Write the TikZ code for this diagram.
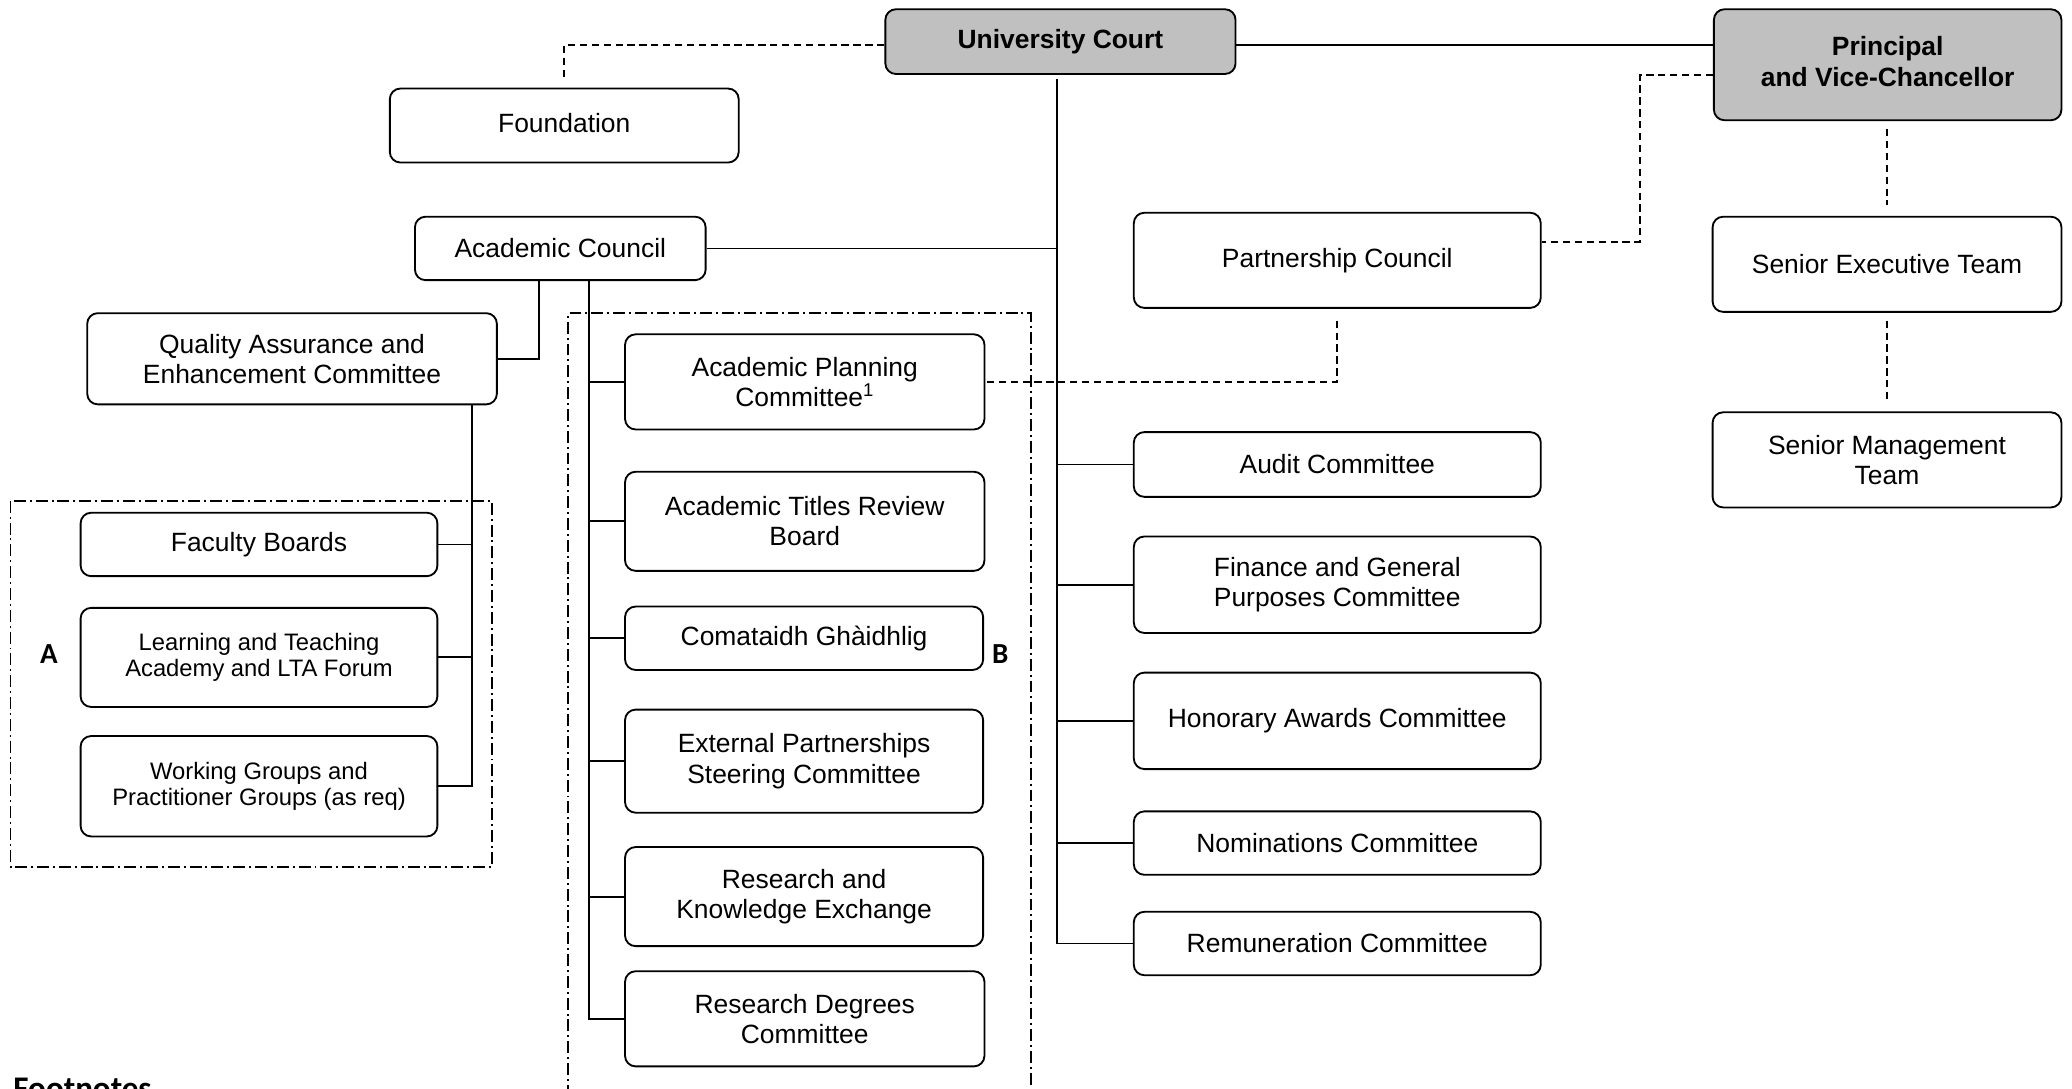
\documentclass[tikz,border=0pt]{standalone}
\usepackage{fontspec}
\setmainfont{Liberation Sans}
\newfontfamily\lblfont{Carlito}
\definecolor{courtgray}{HTML}{C0C0C0}
\begin{document}
\begin{tikzpicture}[x=1pt,y=-1pt,
  box/.style={draw, line width=1.4pt, rounded corners=8pt, align=center, inner sep=0pt, font=\fontsize{20}{23}\selectfont},
  boxs/.style={box, font=\fontsize{18}{20}\selectfont},
  topbox/.style={box, fill=courtgray, font=\bfseries\fontsize{20}{24}\selectfont},
  conn/.style={line width=1.4pt},
  dsh/.style={line width=1.4pt, dash pattern=on 5.5pt off 3.5pt},
  ddot/.style={line width=1.4pt, dash pattern=on 9pt off 3pt on 1.5pt off 3pt},
  lbl/.style={font=\lblfont\bfseries\fontsize{22}{24}\selectfont, inner sep=0pt}]
\useasboundingbox (0,0) rectangle (1568,824);

% top level
\node[topbox, minimum width=265pt, minimum height=49pt] (uc) at (802.5,31.5) {University Court};
\node[topbox, minimum width=263pt, minimum height=84pt] (pvc) at (1428.5,49) {\raisebox{5pt}{\begin{tabular}{@{}c@{}}Principal\\and Vice-Chancellor\end{tabular}}};
\node[box, minimum width=264pt, minimum height=56pt] (found) at (427,95) {\raisebox{4pt}{Foundation}};
\node[box, minimum width=220pt, minimum height=48pt] (ac) at (424,188) {Academic Council};
\node[box, minimum width=308pt, minimum height=72pt] (pc) at (1012,197) {Partnership Council};
\node[box, minimum width=264pt, minimum height=72pt] (set) at (1428,200) {Senior Executive Team};
\node[box, minimum width=264pt, minimum height=72pt] (smt) at (1428,348) {Senior Management\\Team};
\node[box, minimum width=310pt, minimum height=69pt] (qaec) at (221,271.5) {Quality Assurance and\\Enhancement Committee};

% B group
\node[box, minimum width=272pt, minimum height=72pt] (apc) at (609,289) {Academic Planning\\Committee\textsuperscript{1}};
\node[box, minimum width=272pt, minimum height=75pt] (atrb) at (609,394.5) {Academic Titles Review\\Board};
\node[box, minimum width=271pt, minimum height=48pt] (cg) at (608.5,483) {Comataidh Ghàidhlig};
\node[box, minimum width=271pt, minimum height=78pt] (epsc) at (608.5,576) {External Partnerships\\Steering Committee};
\node[box, minimum width=271pt, minimum height=75pt] (rke) at (608.5,678.5) {Research and\\Knowledge Exchange};
\node[box, minimum width=272pt, minimum height=72pt] (rdc) at (609,771) {Research Degrees\\Committee};

% court committees
\node[box, minimum width=308pt, minimum height=49pt] (audit) at (1012,351.5) {Audit Committee};
\node[box, minimum width=308pt, minimum height=73pt] (fgpc) at (1012,442.5) {Finance and General\\Purposes Committee};
\node[box, minimum width=308pt, minimum height=73pt] (hac) at (1012,545.5) {Honorary Awards Committee};
\node[box, minimum width=308pt, minimum height=48pt] (nom) at (1012,638) {Nominations Committee};
\node[box, minimum width=308pt, minimum height=48pt] (rem) at (1012,714) {Remuneration Committee};

% A group
\node[box, minimum width=270pt, minimum height=48pt] (fb) at (196,412) {Faculty Boards};
\node[boxs, minimum width=270pt, minimum height=75pt] (lta) at (196,497.5) {Learning and Teaching\\Academy and LTA Forum};
\node[boxs, minimum width=270pt, minimum height=76pt] (wg) at (196,595) {Working Groups and\\Practitioner Groups (as req)};

% group frames and labels
\draw[ddot] (8,379) rectangle (372,656);
\draw[ddot] (430,830) -- (430,237) -- (780,237) -- (780,830);
\node[lbl] (la) at (37,495) {A};
\node[lbl] (lb) at (757,495) {B};
\node[font=\lblfont\bfseries\fontsize{25}{27}\selectfont, inner sep=0pt, anchor=base west] (fn) at (10,832) {Footnotes};

% coordinates
\coordinate (sp) at (800,60);
\coordinate (fj) at (429,34);
\coordinate (pj) at (1241,57);
\coordinate (pk) at (1241,183);
\coordinate (aq) at (408,0);
\coordinate (bs) at (446,0);
\coordinate (as) at (357,0);
\coordinate (uj) at (0,34);

% solid connectors
\draw[conn] (uc.east |- uj) -- (pvc.west |- uj);
\draw[conn] (sp) -- (sp |- rem.west) -- (rem.west);
\draw[conn] (ac.east) -- (ac.east -| sp);
\foreach \n in {audit,fgpc,hac,nom} \draw[conn] (\n.west) -- (\n.west -| sp);
\draw[conn] (ac.south -| aq) |- (qaec.east);
\draw[conn] (ac.south -| bs) |- (rdc.west);
\foreach \n in {apc,atrb,cg,epsc,rke} \draw[conn] (\n.west) -- (\n.west -| bs);
\draw[conn] (qaec.south -| as) |- (wg.east);
\foreach \n in {fb,lta} \draw[conn] (\n.east) -- (\n.east -| as);

% dashed connectors
\draw[dsh, shorten >=6pt] (uc.west |- fj) -| (found.north);
\draw[dsh] (pvc.west |- pj) -| (pk) -- (pc.east |- pk);
\draw[dsh, shorten <=6pt, shorten >=8pt] (pvc.south -| set.north) -- (set.north);
\draw[dsh, shorten <=6pt, shorten >=8pt] (set.south) -- (smt.north);
\draw[dsh, shorten <=9pt] (pc.south) |- (apc.east);
\end{tikzpicture}
\end{document}
